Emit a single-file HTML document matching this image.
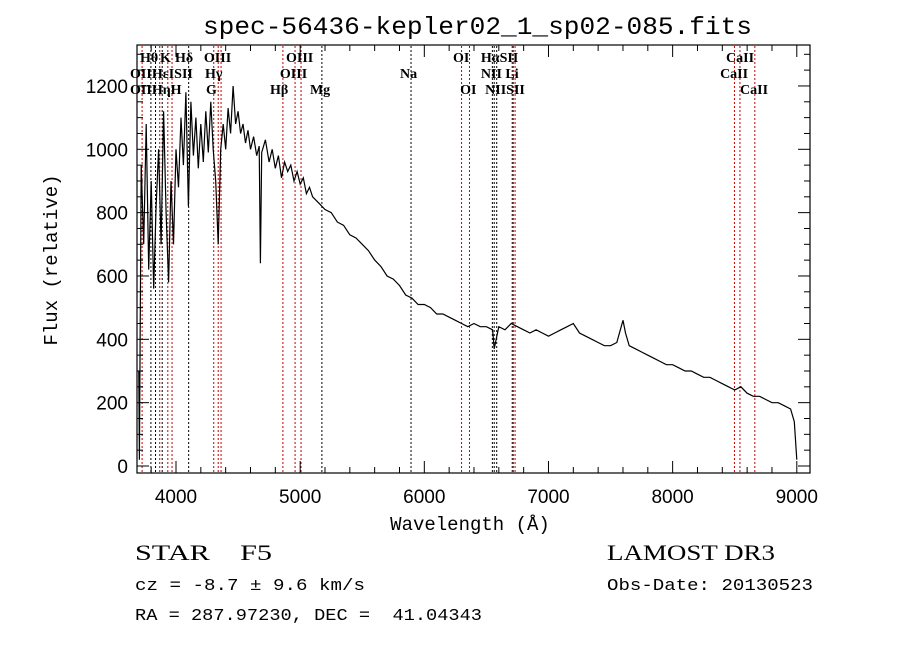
<!DOCTYPE html>
<html><head><meta charset="utf-8"><style>
html,body{margin:0;padding:0;background:#fff;}
svg{display:block}
.t{font-family:"Liberation Mono",monospace;fill:#000}
.s{font-family:"Liberation Sans",sans-serif;fill:#000}
.r{font-family:"Liberation Serif",serif;fill:#000;font-size:14px;font-weight:bold}
</style></head><body>
<svg id="c" width="900" height="649" viewBox="0 0 900 649">
<rect width="900" height="649" fill="#fff"/>
<text class="t" x="203" y="34" font-size="25" textLength="549" lengthAdjust="spacingAndGlyphs">spec-56436-kepler02_1_sp02-085.fits</text>
<g id="lines"></g>
<g id="labels"></g>
<path id="spec" fill="none" stroke="#000" stroke-width="1.2"/>
<rect x="137" y="45" width="673" height="428" fill="none" stroke="#000" stroke-width="1.2"/>
<g id="ticks" stroke="#000" stroke-width="1"></g>
<g id="ticklabels"></g>
<text class="t" x="470" y="530" font-size="19" text-anchor="middle">Wavelength (Å)</text>
<text class="t" x="57" y="260" font-size="19" text-anchor="middle" transform="rotate(-90 57 260)">Flux (relative)</text>
<text x="135" y="560" xml:space="preserve" textLength="137" lengthAdjust="spacingAndGlyphs" style="font-family:'Liberation Serif',serif;font-size:22px">STAR    F5</text>
<text x="607" y="560" textLength="168" lengthAdjust="spacingAndGlyphs" style="font-family:'Liberation Serif',serif;font-size:22px">LAMOST DR3</text>
<text class="t" x="135" y="590" font-size="16.5" textLength="230" lengthAdjust="spacingAndGlyphs">cz = -8.7 ± 9.6 km/s</text>
<text class="t" x="607" y="590" font-size="16.5" textLength="206" lengthAdjust="spacingAndGlyphs">Obs-Date: 20130523</text>
<text class="t" x="135" y="620" font-size="16.5" xml:space="preserve" textLength="347" lengthAdjust="spacingAndGlyphs">RA = 287.97230, DEC =  41.04343</text>
</svg>
<script>
const wave=[3700,3705,3720,3740,3760,3780,3800,3820,3840,3860,3880,3900,3920,3940,3960,3980,4000,4020,4040,4060,4080,4100,4120,4140,4160,4180,4200,4220,4240,4260,4280,4300,4320,4340,4360,4380,4400,4420,4440,4460,4480,4500,4520,4540,4560,4580,4600,4625,4650,4670,4680,4690,4720,4750,4775,4800,4825,4850,4875,4900,4925,4950,4975,5000,5025,5050,5075,5100,5150,5200,5250,5300,5350,5400,5450,5500,5550,5600,5650,5700,5750,5800,5850,5900,5950,6000,6050,6100,6150,6200,6250,6300,6350,6400,6450,6500,6550,6563,6600,6650,6700,6750,6800,6850,6900,6950,7000,7050,7100,7150,7200,7250,7300,7350,7400,7450,7500,7550,7600,7620,7650,7700,7750,7800,7850,7900,7950,8000,8050,8100,8150,8200,8250,8300,8350,8400,8450,8500,8550,8600,8650,8700,8750,8800,8850,8900,8950,8980,9000];
const flux=[300,20,950,700,1080,620,900,560,820,1000,700,1120,800,580,900,700,1000,880,1100,950,1180,820,1150,980,1100,940,1080,960,1120,990,1150,1000,900,700,1000,1080,1000,1130,1050,1200,1080,1120,1050,1080,1020,1060,1000,1040,980,1010,640,990,1030,960,1000,940,980,910,960,930,950,900,930,890,910,860,880,850,830,810,800,770,760,730,720,700,680,650,630,600,590,570,540,530,510,510,500,480,480,470,460,450,440,450,440,440,430,370,440,430,450,440,430,420,430,420,410,420,430,440,450,420,410,400,390,380,380,390,460,420,380,370,360,350,340,330,320,320,310,300,300,290,280,280,270,260,250,240,250,230,220,220,210,200,200,190,180,140,20];
const xTicks=[4000,5000,6000,7000,8000,9000];
const yTicks=[0,200,400,600,800,1000,1200];
const lineWaves=[3727,3798,3835,3869,3889,3934,3968,4102,4304,4340,4363,4861,4959,5007,5175,5893,6300,6364,6548,6563,6583,6708,6717,6731,8498,8542,8662];
const lineRed=[1,0,0,1,0,1,1,0,1,1,1,1,1,1,0,0,1,1,0,0,0,0,1,1,1,1,1];
const labText=["Hθ","K","Hδ","OIII","OIII","OI","HαSII","CaII","OIIHεISII","Hγ","OIII","Na","NII Li","CaII","OIIHηH","G","Hβ","Mg","OI","NIISII","CaII"];
const labWave=[3710,3871,3992,4225,4886,6231,6456,8430,3630,4234,4837,5804,6456,8382,3630,4242,4757,5079,6288,6490,8543];
const labRow=[0,0,0,0,0,0,0,0,1,1,1,1,1,1,2,2,2,2,2,2,2];
const X=w=>176+(w-4000)*0.12416, Y=f=>466-f*0.3167;
const NS="http://www.w3.org/2000/svg";
function mk(tag,attrs,parent){const e=document.createElementNS(NS,tag);for(const k in attrs)e.setAttribute(k,attrs[k]);parent.appendChild(e);return e;}
const gl=document.getElementById('lines');
lineWaves.forEach((w,i)=>{const e=mk('line',{x1:X(w),x2:X(w),y1:46,y2:472,stroke:lineRed[i]?'#c00000':'#000','stroke-width':1,'stroke-dasharray':'2,2'},gl);

});
const glab=document.getElementById('labels');
labText.forEach((t,i)=>{const e=mk('text',{x:X(labWave[i]),y:62+labRow[i]*16,class:'r'},glab);e.textContent=t;

});
let d='';wave.forEach((w,i)=>{const x=Math.max(137,Math.min(810,X(w)));d+=(i?'L':'M')+x.toFixed(1)+','+Y(flux[i]).toFixed(1);});
document.getElementById('spec').setAttribute('d',d);
const gt=document.getElementById('ticks'),gtl=document.getElementById('ticklabels');
for(let w=3800;w<=9100;w+=200){const maj=w%1000===0,len=maj?12:6;mk('line',{x1:X(w),x2:X(w),y1:473,y2:473-len},gt);mk('line',{x1:X(w),x2:X(w),y1:45,y2:45+len},gt);}
for(let f=0;f<=1300;f+=50){const maj=f%200===0,len=maj?12:6;mk('line',{x1:137,x2:137+len,y1:Y(f),y2:Y(f)},gt);mk('line',{x1:810,x2:810-len,y1:Y(f),y2:Y(f)},gt);}
xTicks.forEach(w=>{const e=mk('text',{x:X(w),y:503,class:'s','font-size':19,'text-anchor':'middle'},gtl);e.textContent=w;

});
yTicks.forEach(f=>{const e=mk('text',{x:128,y:Y(f)+7,class:'s','font-size':19,'text-anchor':'end'},gtl);e.textContent=f;

});
</script>
</body></html>
